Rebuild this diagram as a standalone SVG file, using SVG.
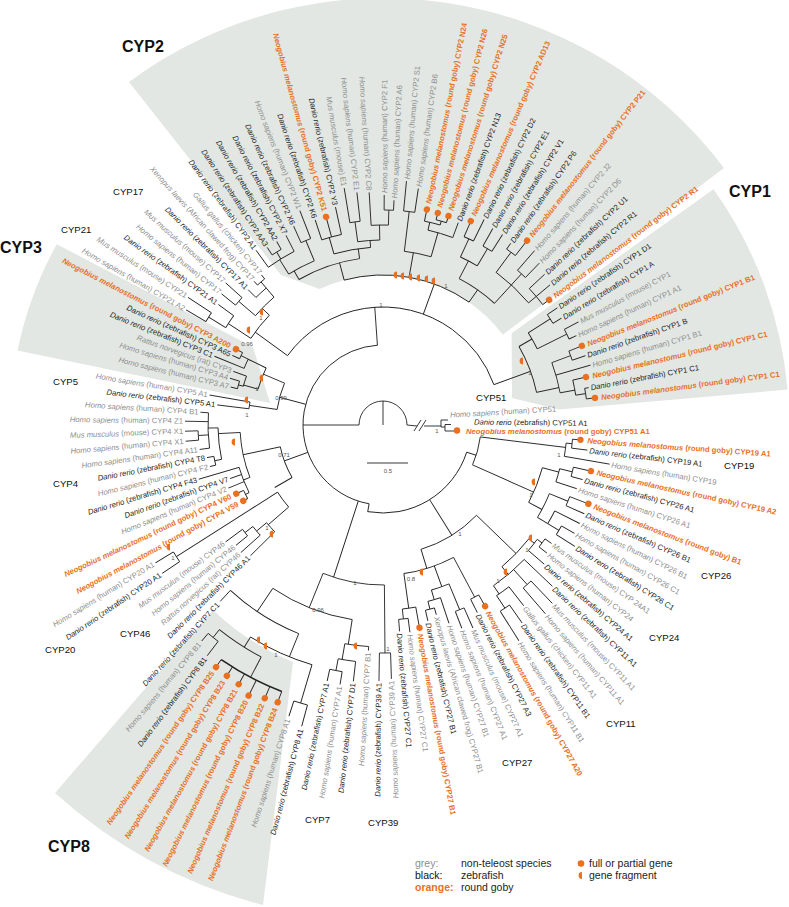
<svg xmlns="http://www.w3.org/2000/svg" width="789" height="907" viewBox="0 0 789 907">
<style>
.t{font-family:"Liberation Sans",Arial,sans-serif;font-size:7.7px;dominant-baseline:central}
.g{fill:#8e8e8e}.k{fill:#1e1e1e}.o{fill:#e8701f;font-weight:bold}
.e{text-anchor:end}.i{font-style:italic}
.d{fill:#e8701f}
.w{fill:#e2e7e3}
.cl{font-family:"Liberation Sans",Arial,sans-serif;font-size:9.6px;fill:#111}
.big{font-family:"Liberation Sans",Arial,sans-serif;font-size:16px;font-weight:bold;fill:#111}
.s{font-family:"Liberation Sans",Arial,sans-serif;font-size:6px;fill:#555;text-anchor:middle}
.lg{font-family:"Liberation Sans",Arial,sans-serif;font-size:10.5px;fill:#222}
</style>
<defs><path id="hf" d="M0,-3.4A3.4,3.4 0 0 0 0,3.4Z" fill="#e8701f"/></defs>
<g id="wedges">
<path class="w" d="M129,82A427,427 0 0 1 724,168L502.8,334.7A150,150 0 0 0 319.6,289.1L281,275Z"/>
<path class="w" d="M511.6,333.2L713.5,189.2A406,406 0 0 1 787.5,389.6L559.3,409.6L512,398Z"/>
<path class="w" d="M56.8,244.2L253,347L270,403L17.5,350.6A373,373 0 0 1 56.8,244.2Z"/>
<path class="w" d="M213,610A252,252 0 0 0 293,662L263,905A495,495 0 0 1 55,793Z"/>
</g>
<g id="connectors" transform="translate(383,425)" fill="none" stroke="#222" stroke-width="0.9">
<circle r="24" pathLength="360" stroke-dasharray="180 360" transform="rotate(180)"/>
<line x2="24" transform="rotate(270)"/>
<line x1="24" x2="80" transform="rotate(180)"/>
<circle r="80" pathLength="360" stroke-dasharray="166 360" transform="rotate(100)"/>
<line x1="80" x2="88" transform="rotate(100)"/>
<circle r="88" pathLength="360" stroke-dasharray="82 360" transform="rotate(18)"/>
<line x1="88" x2="98" transform="rotate(18)"/>
<circle r="98" pathLength="360" stroke-dasharray="17 360" transform="rotate(7)"/>
<line x1="98" x2="184" transform="rotate(7)"/>
<circle r="184" pathLength="360" stroke-dasharray="4.15 360" transform="rotate(5.65)"/>
<line x1="184" x2="190" transform="rotate(5.65)"/>
<circle r="190" pathLength="360" stroke-dasharray="2.7 360" transform="rotate(4.3)"/>
<line x1="190" x2="198" transform="rotate(4.3)"/>
<line x1="190" x2="206" transform="rotate(7)"/>
<line x1="184" x2="230" transform="rotate(9.8)"/>
<line x1="98" x2="165" transform="rotate(24)"/>
<circle r="165" pathLength="360" stroke-dasharray="13 360" transform="rotate(15)"/>
<line x1="165" x2="182" transform="rotate(15)"/>
<circle r="182" pathLength="360" stroke-dasharray="4.3 360" transform="rotate(13.9)"/>
<line x1="182" x2="195" transform="rotate(13.9)"/>
<circle r="195" pathLength="360" stroke-dasharray="2.8 360" transform="rotate(12.5)"/>
<line x1="195" x2="213" transform="rotate(12.5)"/>
<line x1="195" x2="207" transform="rotate(15.3)"/>
<line x1="182" x2="204" transform="rotate(18.2)"/>
<line x1="165" x2="180" transform="rotate(28)"/>
<circle r="180" pathLength="360" stroke-dasharray="8.5 360" transform="rotate(22.4)"/>
<line x1="180" x2="200" transform="rotate(22.4)"/>
<circle r="200" pathLength="360" stroke-dasharray="2.8 360" transform="rotate(21)"/>
<line x1="200" x2="220" transform="rotate(21)"/>
<line x1="200" x2="220" transform="rotate(23.8)"/>
<line x1="180" x2="192" transform="rotate(30.9)"/>
<circle r="192" pathLength="360" stroke-dasharray="4.3 360" transform="rotate(26.6)"/>
<line x1="192" x2="220" transform="rotate(26.6)"/>
<line x1="192" x2="205" transform="rotate(30.9)"/>
<circle r="205" pathLength="360" stroke-dasharray="2.8 360" transform="rotate(29.5)"/>
<line x1="205" x2="220" transform="rotate(29.5)"/>
<line x1="205" x2="227" transform="rotate(32.3)"/>
<line x1="88" x2="130" transform="rotate(58)"/>
<circle r="130" pathLength="360" stroke-dasharray="29 360" transform="rotate(44)"/>
<line x1="130" x2="185" transform="rotate(44)"/>
<circle r="185" pathLength="360" stroke-dasharray="12 360" transform="rotate(38)"/>
<line x1="185" x2="192" transform="rotate(38)"/>
<circle r="192" pathLength="360" stroke-dasharray="4.25 360" transform="rotate(36.55)"/>
<line x1="192" x2="198" transform="rotate(36.55)"/>
<circle r="198" pathLength="360" stroke-dasharray="2.9 360" transform="rotate(35.1)"/>
<line x1="198" x2="206" transform="rotate(35.1)"/>
<line x1="198" x2="208" transform="rotate(38)"/>
<line x1="192" x2="213" transform="rotate(40.8)"/>
<line x1="185" x2="195" transform="rotate(50)"/>
<circle r="195" pathLength="360" stroke-dasharray="11.9 360" transform="rotate(43.6)"/>
<line x1="195" x2="234" transform="rotate(43.6)"/>
<line x1="195" x2="215" transform="rotate(47.9)"/>
<circle r="215" pathLength="360" stroke-dasharray="2.8 360" transform="rotate(46.5)"/>
<line x1="215" x2="246" transform="rotate(46.5)"/>
<line x1="215" x2="249" transform="rotate(49.3)"/>
<line x1="195" x2="205" transform="rotate(55.5)"/>
<circle r="205" pathLength="360" stroke-dasharray="4.25 360" transform="rotate(52.1)"/>
<line x1="205" x2="229" transform="rotate(52.1)"/>
<line x1="205" x2="220" transform="rotate(56.35)"/>
<circle r="220" pathLength="360" stroke-dasharray="2.9 360" transform="rotate(54.9)"/>
<line x1="220" x2="242" transform="rotate(54.9)"/>
<line x1="220" x2="255" transform="rotate(57.8)"/>
<line x1="130" x2="150" transform="rotate(73)"/>
<circle r="150" pathLength="360" stroke-dasharray="20.05 360" transform="rotate(61.95)"/>
<line x1="150" x2="195" transform="rotate(61.95)"/>
<circle r="195" pathLength="360" stroke-dasharray="2.7 360" transform="rotate(60.6)"/>
<line x1="195" x2="208" transform="rotate(60.6)"/>
<line x1="195" x2="210" transform="rotate(63.3)"/>
<line x1="150" x2="172" transform="rotate(70)"/>
<circle r="172" pathLength="360" stroke-dasharray="6.2 360" transform="rotate(67.45)"/>
<line x1="172" x2="200" transform="rotate(67.45)"/>
<circle r="200" pathLength="360" stroke-dasharray="2.7 360" transform="rotate(66.1)"/>
<line x1="200" x2="222" transform="rotate(66.1)"/>
<line x1="200" x2="218" transform="rotate(68.8)"/>
<line x1="172" x2="182" transform="rotate(73.65)"/>
<circle r="182" pathLength="360" stroke-dasharray="4.1 360" transform="rotate(71.6)"/>
<line x1="182" x2="209" transform="rotate(71.6)"/>
<line x1="182" x2="190" transform="rotate(75.7)"/>
<circle r="190" pathLength="360" stroke-dasharray="2.8 360" transform="rotate(74.3)"/>
<line x1="190" x2="197" transform="rotate(74.3)"/>
<line x1="190" x2="201" transform="rotate(77.1)"/>
<line x1="150" x2="185" transform="rotate(82)"/>
<circle r="185" pathLength="360" stroke-dasharray="4.2 360" transform="rotate(79.8)"/>
<line x1="185" x2="206" transform="rotate(79.8)"/>
<line x1="185" x2="195" transform="rotate(84)"/>
<circle r="195" pathLength="360" stroke-dasharray="2.8 360" transform="rotate(82.6)"/>
<line x1="195" x2="209" transform="rotate(82.6)"/>
<line x1="195" x2="207" transform="rotate(85.4)"/>
<line x1="80" x2="160" transform="rotate(108)"/>
<circle r="160" pathLength="360" stroke-dasharray="22.5 360" transform="rotate(89.5)"/>
<line x1="160" x2="228" transform="rotate(89.5)"/>
<circle r="228" pathLength="360" stroke-dasharray="2.8 360" transform="rotate(88.1)"/>
<line x1="228" x2="254" transform="rotate(88.1)"/>
<line x1="228" x2="256" transform="rotate(90.9)"/>
<line x1="160" x2="197" transform="rotate(112)"/>
<circle r="197" pathLength="360" stroke-dasharray="25 360" transform="rotate(99)"/>
<line x1="197" x2="222" transform="rotate(99)"/>
<circle r="222" pathLength="360" stroke-dasharray="6.2 360" transform="rotate(93.7)"/>
<line x1="222" x2="226" transform="rotate(93.7)"/>
<line x1="222" x2="238" transform="rotate(99.9)"/>
<circle r="238" pathLength="360" stroke-dasharray="4.25 360" transform="rotate(96.6)"/>
<line x1="238" x2="258" transform="rotate(96.6)"/>
<line x1="238" x2="250" transform="rotate(100.85)"/>
<circle r="250" pathLength="360" stroke-dasharray="2.9 360" transform="rotate(99.4)"/>
<line x1="250" x2="263" transform="rotate(99.4)"/>
<line x1="250" x2="262" transform="rotate(102.3)"/>
<line x1="197" x2="225" transform="rotate(124)"/>
<circle r="225" pathLength="360" stroke-dasharray="20.7 360" transform="rotate(112)"/>
<line x1="225" x2="240" transform="rotate(132.7)"/>
<line x1="225" x2="250" transform="rotate(112)"/>
<circle r="250" pathLength="360" stroke-dasharray="15.5 360" transform="rotate(106.5)"/>
<line x1="250" x2="290" transform="rotate(106.5)"/>
<circle r="290" pathLength="360" stroke-dasharray="2.8 360" transform="rotate(105.1)"/>
<line x1="290" x2="312" transform="rotate(105.1)"/>
<line x1="290" x2="306" transform="rotate(107.9)"/>
<line x1="250" x2="262" transform="rotate(122)"/>
<circle r="262" pathLength="360" stroke-dasharray="10.95 360" transform="rotate(117.7)"/>
<line x1="262" x2="285" transform="rotate(117.7)"/>
<circle r="285" pathLength="360" stroke-dasharray="13.8 360" transform="rotate(110.8)" stroke-width="1.6"/>
<line x1="285" x2="296.6" transform="rotate(110.8)"/>
<line x1="285" x2="297.7" transform="rotate(113.4)"/>
<line x1="285" x2="302.2" transform="rotate(116.4)"/>
<line x1="285" x2="296.7" transform="rotate(119.1)"/>
<line x1="285" x2="295.4" transform="rotate(121.9)"/>
<line x1="285" x2="294" transform="rotate(124.6)"/>
<line x1="262" x2="272" transform="rotate(128.65)"/>
<circle r="272" pathLength="360" stroke-dasharray="2.7 360" transform="rotate(127.3)"/>
<line x1="272" x2="290" transform="rotate(127.3)"/>
<line x1="272" x2="282" transform="rotate(130)"/>
<line x1="80" x2="105" transform="rotate(160)"/>
<circle r="105" pathLength="360" stroke-dasharray="18 360" transform="rotate(150)"/>
<line x1="105" x2="143" transform="rotate(168)"/>
<circle r="143" pathLength="360" stroke-dasharray="18.5 360" transform="rotate(158.5)"/>
<line x1="143" x2="150" transform="rotate(158.5)"/>
<circle r="150" pathLength="360" stroke-dasharray="10.4 360" transform="rotate(153.2)"/>
<line x1="150" x2="154" transform="rotate(153.2)"/>
<circle r="154" pathLength="360" stroke-dasharray="3.4 360" transform="rotate(151.5)"/>
<line x1="154" x2="159" transform="rotate(151.5)"/>
<line x1="154" x2="162" transform="rotate(154.9)"/>
<line x1="150" x2="167" transform="rotate(157.8)"/>
<line x1="150" x2="162" transform="rotate(160.7)"/>
<line x1="150" x2="192" transform="rotate(163.6)"/>
<line x1="143" x2="165" transform="rotate(177)"/>
<circle r="165" pathLength="360" stroke-dasharray="11 360" transform="rotate(168)"/>
<line x1="165" x2="172" transform="rotate(168)"/>
<circle r="172" pathLength="360" stroke-dasharray="3 360" transform="rotate(166.5)"/>
<line x1="172" x2="178" transform="rotate(166.5)"/>
<line x1="172" x2="179" transform="rotate(169.5)"/>
<line x1="165" x2="175" transform="rotate(179)"/>
<circle r="175" pathLength="360" stroke-dasharray="11.6 360" transform="rotate(172.4)"/>
<line x1="175" x2="185" transform="rotate(172.4)"/>
<line x1="175" x2="185" transform="rotate(176.75)"/>
<circle r="185" pathLength="360" stroke-dasharray="2.9 360" transform="rotate(175.3)"/>
<line x1="185" x2="198" transform="rotate(175.3)"/>
<line x1="185" x2="198" transform="rotate(178.2)"/>
<line x1="175" x2="198" transform="rotate(181.1)"/>
<line x1="175" x2="183" transform="rotate(184)"/>
<line x1="105" x2="125" transform="rotate(150)"/>
<circle r="125" pathLength="360" stroke-dasharray="8.5 360" transform="rotate(139)"/>
<line x1="125" x2="152" transform="rotate(139)"/>
<circle r="152" pathLength="360" stroke-dasharray="4.6 360" transform="rotate(135.4)"/>
<line x1="152" x2="186" transform="rotate(135.4)"/>
<line x1="152" x2="165" transform="rotate(140)"/>
<circle r="165" pathLength="360" stroke-dasharray="3.95 360" transform="rotate(138.1)"/>
<line x1="165" x2="191" transform="rotate(138.1)"/>
<line x1="165" x2="175" transform="rotate(142.05)"/>
<circle r="175" pathLength="360" stroke-dasharray="2.7 360" transform="rotate(140.7)"/>
<line x1="175" x2="190" transform="rotate(140.7)"/>
<line x1="175" x2="196" transform="rotate(143.4)"/>
<line x1="125" x2="245" transform="rotate(147.5)"/>
<circle r="245" pathLength="360" stroke-dasharray="2.7 360" transform="rotate(146.1)"/>
<line x1="245" x2="266" transform="rotate(146.1)"/>
<line x1="245" x2="266" transform="rotate(148.8)"/>
<line x1="80" x2="107" transform="rotate(195)"/>
<circle r="107" pathLength="360" stroke-dasharray="14.65 360" transform="rotate(188.35)"/>
<line x1="107" x2="135" transform="rotate(188.35)"/>
<circle r="135" pathLength="360" stroke-dasharray="2.9 360" transform="rotate(186.9)"/>
<line x1="135" x2="167" transform="rotate(186.9)"/>
<line x1="135" x2="176" transform="rotate(189.8)"/>
<line x1="107" x2="130" transform="rotate(203)"/>
<circle r="130" pathLength="360" stroke-dasharray="10 360" transform="rotate(196)"/>
<line x1="130" x2="145" transform="rotate(196)"/>
<circle r="145" pathLength="360" stroke-dasharray="4.2 360" transform="rotate(195.5)"/>
<line x1="145" x2="150" transform="rotate(195.5)"/>
<circle r="150" pathLength="360" stroke-dasharray="3 360" transform="rotate(194)"/>
<line x1="150" x2="157" transform="rotate(194)"/>
<line x1="150" x2="160" transform="rotate(197)"/>
<line x1="145" x2="159" transform="rotate(199.7)"/>
<line x1="130" x2="150" transform="rotate(206)"/>
<circle r="150" pathLength="360" stroke-dasharray="3.85 360" transform="rotate(202.2)"/>
<line x1="150" x2="182" transform="rotate(202.2)"/>
<line x1="150" x2="158" transform="rotate(206.05)"/>
<circle r="158" pathLength="360" stroke-dasharray="2.5 360" transform="rotate(204.8)"/>
<line x1="158" x2="166" transform="rotate(204.8)"/>
<line x1="158" x2="165.5" transform="rotate(207.3)"/>
<line x1="80" x2="118" transform="rotate(266)"/>
<circle r="118" pathLength="360" stroke-dasharray="124 360" transform="rotate(216)"/>
<line x1="118" x2="158" transform="rotate(216)"/>
<circle r="158" pathLength="360" stroke-dasharray="10.75 360" transform="rotate(213.25)"/>
<line x1="158" x2="185" transform="rotate(213.25)"/>
<circle r="185" pathLength="360" stroke-dasharray="4.45 360" transform="rotate(211.75)"/>
<line x1="185" x2="205" transform="rotate(211.75)"/>
<circle r="205" pathLength="360" stroke-dasharray="2.9 360" transform="rotate(210.3)"/>
<line x1="205" x2="228" transform="rotate(210.3)"/>
<line x1="205" x2="233" transform="rotate(213.2)"/>
<line x1="185" x2="204" transform="rotate(216.2)"/>
<line x1="158" x2="168" transform="rotate(224)"/>
<circle r="168" pathLength="360" stroke-dasharray="8.95 360" transform="rotate(220.6)"/>
<line x1="168" x2="190" transform="rotate(220.6)"/>
<circle r="190" pathLength="360" stroke-dasharray="3 360" transform="rotate(219.1)"/>
<line x1="190" x2="208" transform="rotate(219.1)"/>
<line x1="190" x2="212" transform="rotate(222.1)"/>
<line x1="168" x2="180" transform="rotate(229.55)"/>
<circle r="180" pathLength="360" stroke-dasharray="4.45 360" transform="rotate(225.1)"/>
<line x1="180" x2="191" transform="rotate(225.1)"/>
<line x1="180" x2="188" transform="rotate(229.55)"/>
<circle r="188" pathLength="360" stroke-dasharray="2.9 360" transform="rotate(228.1)"/>
<line x1="188" x2="193" transform="rotate(228.1)"/>
<line x1="188" x2="193" transform="rotate(231)"/>
<line x1="118" x2="150" transform="rotate(290)"/>
<circle r="150" pathLength="360" stroke-dasharray="50 360" transform="rotate(255)"/>
<line x1="150" x2="168" transform="rotate(255)"/>
<circle r="168" pathLength="360" stroke-dasharray="22 360" transform="rotate(240)"/>
<line x1="168" x2="178" transform="rotate(240)"/>
<circle r="178" pathLength="360" stroke-dasharray="9.3 360" transform="rotate(238)"/>
<line x1="178" x2="195" transform="rotate(238)"/>
<circle r="195" pathLength="360" stroke-dasharray="8.9 360" transform="rotate(234)"/>
<line x1="195" x2="216" transform="rotate(234)"/>
<line x1="195" x2="203" transform="rotate(238.4)"/>
<circle r="203" pathLength="360" stroke-dasharray="3 360" transform="rotate(236.9)"/>
<line x1="203" x2="212" transform="rotate(236.9)"/>
<line x1="203" x2="212" transform="rotate(239.9)"/>
<line x1="195" x2="213" transform="rotate(242.9)"/>
<line x1="178" x2="200" transform="rotate(247.3)"/>
<circle r="200" pathLength="360" stroke-dasharray="3 360" transform="rotate(245.8)"/>
<line x1="200" x2="218" transform="rotate(245.8)"/>
<line x1="200" x2="230" transform="rotate(248.8)"/>
<line x1="168" x2="178" transform="rotate(262)"/>
<circle r="178" pathLength="360" stroke-dasharray="12 360" transform="rotate(254)"/>
<line x1="178" x2="195" transform="rotate(254)"/>
<circle r="195" pathLength="360" stroke-dasharray="6 360" transform="rotate(251.7)"/>
<line x1="195" x2="216" transform="rotate(251.7)"/>
<line x1="195" x2="215.7" transform="rotate(254.7)"/>
<line x1="195" x2="223" transform="rotate(257.7)"/>
<line x1="178" x2="185" transform="rotate(266)"/>
<circle r="185" pathLength="360" stroke-dasharray="6.85 360" transform="rotate(262.15)"/>
<line x1="185" x2="205" transform="rotate(262.15)"/>
<circle r="205" pathLength="360" stroke-dasharray="2.9 360" transform="rotate(260.7)"/>
<line x1="205" x2="240" transform="rotate(260.7)"/>
<line x1="205" x2="234" transform="rotate(263.6)"/>
<line x1="185" x2="200" transform="rotate(269)"/>
<circle r="200" pathLength="360" stroke-dasharray="4.95 360" transform="rotate(266.6)"/>
<line x1="200" x2="233" transform="rotate(266.6)"/>
<line x1="200" x2="215" transform="rotate(271.55)"/>
<circle r="215" pathLength="360" stroke-dasharray="2.5 360" transform="rotate(270.3)"/>
<line x1="215" x2="230" transform="rotate(270.3)"/>
<line x1="215" x2="225" transform="rotate(272.8)"/>
<line x1="150" x2="175" transform="rotate(280)"/>
<circle r="175" pathLength="360" stroke-dasharray="8.95 360" transform="rotate(277)"/>
<line x1="175" x2="215" transform="rotate(277)"/>
<circle r="215" pathLength="360" stroke-dasharray="3 360" transform="rotate(275.5)"/>
<line x1="215" x2="245" transform="rotate(275.5)"/>
<line x1="215" x2="239" transform="rotate(278.5)"/>
<line x1="175" x2="200" transform="rotate(285.95)"/>
<circle r="200" pathLength="360" stroke-dasharray="7.4 360" transform="rotate(283)"/>
<line x1="200" x2="208" transform="rotate(283)"/>
<circle r="208" pathLength="360" stroke-dasharray="4.45 360" transform="rotate(281.5)"/>
<line x1="208" x2="220" transform="rotate(281.5)"/>
<line x1="208" x2="212" transform="rotate(285.95)"/>
<circle r="212" pathLength="360" stroke-dasharray="2.9 360" transform="rotate(284.5)"/>
<line x1="212" x2="219" transform="rotate(284.5)"/>
<line x1="212" x2="219" transform="rotate(287.4)"/>
<line x1="200" x2="216" transform="rotate(290.4)"/>
<line x1="150" x2="165" transform="rotate(305)"/>
<circle r="165" pathLength="360" stroke-dasharray="15 360" transform="rotate(297.5)"/>
<line x1="165" x2="185" transform="rotate(297.5)"/>
<circle r="185" pathLength="360" stroke-dasharray="5.9 360" transform="rotate(294.75)"/>
<line x1="185" x2="205" transform="rotate(294.75)"/>
<circle r="205" pathLength="360" stroke-dasharray="2.9 360" transform="rotate(293.3)"/>
<line x1="205" x2="222" transform="rotate(293.3)"/>
<line x1="205" x2="229" transform="rotate(296.2)"/>
<line x1="185" x2="205" transform="rotate(300.65)"/>
<circle r="205" pathLength="360" stroke-dasharray="2.9 360" transform="rotate(299.2)"/>
<line x1="205" x2="225" transform="rotate(299.2)"/>
<line x1="205" x2="225" transform="rotate(302.1)"/>
<line x1="165" x2="190" transform="rotate(312.5)"/>
<circle r="190" pathLength="360" stroke-dasharray="13.45 360" transform="rotate(306.55)"/>
<line x1="190" x2="215" transform="rotate(306.55)"/>
<circle r="215" pathLength="360" stroke-dasharray="2.9 360" transform="rotate(305.1)"/>
<line x1="215" x2="222" transform="rotate(305.1)"/>
<line x1="215" x2="234" transform="rotate(308)"/>
<line x1="190" x2="205" transform="rotate(312.5)"/>
<circle r="205" pathLength="360" stroke-dasharray="3 360" transform="rotate(311)"/>
<line x1="205" x2="231" transform="rotate(311)"/>
<line x1="205" x2="225" transform="rotate(314)"/>
<line x1="190" x2="200" transform="rotate(320)"/>
<circle r="200" pathLength="360" stroke-dasharray="6 360" transform="rotate(317)"/>
<line x1="200" x2="221" transform="rotate(317)"/>
<line x1="200" x2="218" transform="rotate(320)"/>
<line x1="200" x2="208" transform="rotate(323)"/>
<line x1="118" x2="157" transform="rotate(340)"/>
<circle r="157" pathLength="360" stroke-dasharray="18 360" transform="rotate(330)"/>
<line x1="157" x2="172" transform="rotate(330)"/>
<circle r="172" pathLength="360" stroke-dasharray="6.1 360" transform="rotate(327.6)"/>
<line x1="172" x2="198" transform="rotate(327.6)"/>
<circle r="198" pathLength="360" stroke-dasharray="3 360" transform="rotate(326.1)"/>
<line x1="198" x2="210" transform="rotate(326.1)"/>
<line x1="198" x2="208" transform="rotate(329.1)"/>
<line x1="172" x2="205" transform="rotate(333.7)"/>
<circle r="205" pathLength="360" stroke-dasharray="3 360" transform="rotate(332.2)"/>
<line x1="205" x2="221" transform="rotate(332.2)"/>
<line x1="205" x2="213" transform="rotate(335.2)"/>
<line x1="157" x2="180" transform="rotate(348)"/>
<circle r="180" pathLength="360" stroke-dasharray="10 360" transform="rotate(339.7)"/>
<line x1="180" x2="200" transform="rotate(339.7)"/>
<circle r="200" pathLength="360" stroke-dasharray="2.8 360" transform="rotate(338.3)"/>
<line x1="200" x2="214" transform="rotate(338.3)"/>
<line x1="200" x2="214" transform="rotate(341.1)"/>
<line x1="180" x2="216" transform="rotate(343.9)"/>
<line x1="180" x2="195" transform="rotate(349.7)"/>
<circle r="195" pathLength="360" stroke-dasharray="4.5 360" transform="rotate(346.7)"/>
<line x1="195" x2="208.6" transform="rotate(346.7)"/>
<line x1="195" x2="205" transform="rotate(351.2)"/>
<circle r="205" pathLength="360" stroke-dasharray="3 360" transform="rotate(349.7)"/>
<line x1="205" x2="209" transform="rotate(349.7)"/>
<line x1="205" x2="213.7" transform="rotate(352.7)"/>
</g>
<g id="cyp51-branch" fill="none" stroke="#222" stroke-width="0.9">
<path d="M407,425L417,426M424,426L441,426M441,420V427M441,420H448M441,427H445M445,424.5V431M445,424.5H451M445,431H454"/>
<path d="M414,431L421,420M419,431L426,420"/>
</g>
<g id="leaves" transform="translate(383,425)">
<g id="l4" transform="rotate(4.3)"><circle class="d" cx="198" r="3.2"/><text class="t o" x="205"><tspan class="i">Neogobius melanostomus</tspan> (round goby) CYP19 A1</text></g>
<g id="l5" transform="rotate(7)"><text class="t k" x="208"><tspan class="i">Danio rerio</tspan> (zebrafish) CYP19 A1</text></g>
<g id="l6" transform="rotate(9.8)"><text class="t g" x="232"><tspan class="i">Homo sapiens</tspan> (human) CYP19</text></g>
<g id="l7" transform="rotate(12.5)"><circle class="d" cx="213" r="3.2"/><text class="t o" x="219"><tspan class="i">Neogobius melanostomus</tspan> (round goby) CYP19 A2</text></g>
<g id="l8" transform="rotate(15.3)"><text class="t k" x="209"><tspan class="i">Danio rerio</tspan> (zebrafish) CYP26 A1</text></g>
<g id="l9" transform="rotate(18.2)"><text class="t g" x="206"><tspan class="i">Homo sapiens</tspan> (human) CYP26 A1</text></g>
<g id="l10" transform="rotate(21)"><circle class="d" cx="220" r="3.2"/><text class="t o" x="226"><tspan class="i">Neogobius melanostomus</tspan> (round goby) B1</text></g>
<g id="l11" transform="rotate(23.8)"><text class="t k" x="222"><tspan class="i">Danio rerio</tspan> (zebrafish) CYP26 B1</text></g>
<g id="l12" transform="rotate(26.6)"><text class="t g" x="222"><tspan class="i">Homo sapiens</tspan> (human) CYP26 B1</text></g>
<g id="l13" transform="rotate(29.5)"><text class="t g" x="222"><tspan class="i">Homo sapiens</tspan> (human) CYP26 C1</text></g>
<g id="l14" transform="rotate(32.3)"><text class="t k" x="229"><tspan class="i">Danio rerio</tspan> (zebrafish) CYP26 C1</text></g>
<g id="l15" transform="rotate(35.1)"><text class="t g" x="208"><tspan class="i">Mus musculus</tspan> (mouse) CYP 24A1</text></g>
<g id="l16" transform="rotate(38)"><text class="t g" x="210"><tspan class="i">Homo sapiens</tspan> (human) CYP24</text></g>
<g id="l17" transform="rotate(40.8)"><text class="t k" x="215"><tspan class="i">Danio rerio</tspan> (zebrafish) CYP24 A1</text></g>
<g id="l18" transform="rotate(43.6)"><text class="t k" x="236"><tspan class="i">Danio rerio</tspan> (zebrafish) CYP11 A1</text></g>
<g id="l19" transform="rotate(46.5)"><text class="t g" x="248"><tspan class="i">Mus musculus</tspan> (mouse) CYP11 A1</text></g>
<g id="l20" transform="rotate(49.3)"><text class="t g" x="251"><tspan class="i">Homo sapiens</tspan> (human) CYP11 A1</text></g>
<g id="l21" transform="rotate(52.1)"><text class="t g" x="231"><tspan class="i">Gallus gallus</tspan> (chicken) CYP11 A1</text></g>
<g id="l22" transform="rotate(54.9)"><text class="t k" x="244"><tspan class="i">Danio rerio</tspan> (zebrafish) CYP11 B1</text></g>
<g id="l23" transform="rotate(57.8)"><text class="t g" x="257"><tspan class="i">Homo sapiens</tspan> (human) CYP11 B1</text></g>
<g id="l24" transform="rotate(60.6)"><circle class="d" cx="208" r="3.2"/><text class="t o" x="214"><tspan class="i">Neogobius melanostomus</tspan> (round goby) CYP27 A20</text></g>
<g id="l25" transform="rotate(63.3)"><text class="t k" x="212"><tspan class="i">Danio rerio</tspan> (zebrafish) CYP27 A3</text></g>
<g id="l26" transform="rotate(66.1)"><text class="t g" x="224"><tspan class="i">Mus musculus</tspan> (mouse) CYP27 A1</text></g>
<g id="l27" transform="rotate(68.8)"><text class="t g" x="220"><tspan class="i">Homo sapiens</tspan> (human) CYP27 A1</text></g>
<g id="l28" transform="rotate(71.6)"><text class="t g" x="211"><tspan class="i">Homo sapiens</tspan> (human) CYP27 B1</text></g>
<g id="l29" transform="rotate(74.3)"><text class="t g" x="199"><tspan class="i">Xenopus laevis</tspan> (African clawed frog) CYP27 B1</text></g>
<g id="l30" transform="rotate(77.1)"><text class="t k" x="203"><tspan class="i">Danio rerio</tspan> (zebrafish) CYP27 B1</text></g>
<g id="l31" transform="rotate(79.8)"><circle class="d" cx="206" r="3.2"/><text class="t o" x="212"><tspan class="i">Neogobius melanostomus</tspan> (round goby) CYP27 B1</text></g>
<g id="l32" transform="rotate(82.6)"><text class="t g" x="211"><tspan class="i">Homo sapiens</tspan> (human) CYP27 C1</text></g>
<g id="l33" transform="rotate(85.4)"><text class="t k" x="209"><tspan class="i">Danio rerio</tspan> (zebrafish) CYP27 C1</text></g>
<g id="l34" transform="rotate(-91.9)"><text class="t g e" x="-256"><tspan class="i">Homo sapiens</tspan> (human) CYP39 A1</text></g>
<g id="l35" transform="rotate(-89.1)"><text class="t k e" x="-258"><tspan class="i">Danio rerio</tspan> (zebrafish) CYP39 A1</text></g>
<g id="l36" transform="rotate(-86.3)"><text class="t g e" x="-228"><tspan class="i">Homo sapiens</tspan> (human) CYP7 B1</text></g>
<g id="l37" transform="rotate(-83.4)"><text class="t k e" x="-260"><tspan class="i">Danio rerio</tspan> (zebrafish) CYP7 D1</text></g>
<g id="l38" transform="rotate(-80.6)"><text class="t g e" x="-265"><tspan class="i">Homo sapiens</tspan> (human) CYP7 A1</text></g>
<g id="l39" transform="rotate(-77.7)"><text class="t k e" x="-264"><tspan class="i">Danio rerio</tspan> (zebrafish) CYP7 A1</text></g>
<g id="l40" transform="rotate(-74.9)"><text class="t k e" x="-315"><tspan class="i">Danio rerio</tspan> (zebrafish) CYP8 A1</text></g>
<g id="l41" transform="rotate(-72.1)"><text class="t g e" x="-309"><tspan class="i">Homo sapiens</tspan> (human) CYP8 A1</text></g>
<g id="l42" transform="rotate(-69.2)"><circle class="d" cx="-296.6" r="3.2"/><text class="t o e" x="-303"><tspan class="i">Neogobius melanostomus</tspan> (round goby) CYP8 B24</text></g>
<g id="l43" transform="rotate(-66.6)"><circle class="d" cx="-297.7" r="3.2"/><text class="t o e" x="-304"><tspan class="i">Neogobius melanostomus</tspan> (round goby) CYP8 B22</text></g>
<g id="l44" transform="rotate(-63.6)"><circle class="d" cx="-302.2" r="3.2"/><text class="t o e" x="-308"><tspan class="i">Neogobius melanostomus</tspan> (round goby) CYP8 B20</text></g>
<g id="l45" transform="rotate(-60.9)"><circle class="d" cx="-296.7" r="3.2"/><text class="t o e" x="-303"><tspan class="i">Neogobius melanostomus</tspan> (round goby) CYP8 B21</text></g>
<g id="l46" transform="rotate(-58.1)"><circle class="d" cx="-295.4" r="3.2"/><text class="t o e" x="-302"><tspan class="i">Neogobius melanostomus</tspan> (round goby) CYP8 B23</text></g>
<g id="l47" transform="rotate(-55.4)"><circle class="d" cx="-294" r="3.2"/><text class="t o e" x="-300"><tspan class="i">Neogobius melanostomus</tspan> (round goby) CYP8 B25</text></g>
<g id="l48" transform="rotate(-52.7)"><text class="t k e" x="-293"><tspan class="i">Danio rerio</tspan> (zebrafish) CYP8 B1</text></g>
<g id="l49" transform="rotate(-50)"><text class="t g e" x="-285"><tspan class="i">Homo sapiens</tspan> (human) CYP8 B1</text></g>
<g id="l50" transform="rotate(-47.3)"><text class="t k e" x="-243"><tspan class="i">Danio rerio</tspan> (zebrafish) CYP7 C1</text></g>
<g id="l51" transform="rotate(-44.6)"><text class="t k e" x="-188"><tspan class="i">Danio rerio</tspan> (zebrafish) CYP46 A1</text></g>
<g id="l52" transform="rotate(-41.9)"><text class="t g e" x="-193"><tspan class="i">Rattus norvegicus</tspan> (rat) CYP46</text></g>
<g id="l53" transform="rotate(-39.3)"><text class="t g e" x="-192"><tspan class="i">Homo sapiens</tspan> (human) CYP46</text></g>
<g id="l54" transform="rotate(-36.6)"><text class="t g e" x="-198"><tspan class="i">Mus musculus</tspan> (mouse) CYP46</text></g>
<g id="l55" transform="rotate(-33.9)"><text class="t k e" x="-268"><tspan class="i">Danio rerio</tspan> (zebrafish) CYP20 A1</text></g>
<g id="l56" transform="rotate(-31.2)"><text class="t g e" x="-268"><tspan class="i">Homo sapiens</tspan> (human) CYP20 A1</text></g>
<g id="l57" transform="rotate(-28.5)"><circle class="d" cx="-159" r="3.2"/><text class="t o e" x="-165"><tspan class="i">Neogobius melanostomus</tspan> (round goby) CYP4 V59</text></g>
<g id="l58" transform="rotate(-25.1)"><circle class="d" cx="-162" r="3.2"/><text class="t o e" x="-168"><tspan class="i">Neogobius melanostomus</tspan> (round goby) CYP4 V60</text></g>
<g id="l59" transform="rotate(-22.2)"><text class="t g e" x="-169"><tspan class="i">Homo sapiens</tspan> (human) CYP4 V2</text></g>
<g id="l60" transform="rotate(-19.3)"><text class="t k e" x="-164"><tspan class="i">Danio rerio</tspan> (zebrafish) CYP4 V7</text></g>
<g id="l61" transform="rotate(-16.4)"><text class="t k e" x="-194"><tspan class="i">Danio rerio</tspan> (zebrafish) CYP4 F43</text></g>
<g id="l62" transform="rotate(-13.5)"><text class="t g e" x="-180"><tspan class="i">Homo sapiens</tspan> (human) CYP4 F2</text></g>
<g id="l63" transform="rotate(-10.5)"><text class="t k e" x="-181"><tspan class="i">Danio rerio</tspan> (zebrafish) CYP4 T8</text></g>
<g id="l64" transform="rotate(-7.6)"><text class="t g e" x="-187"><tspan class="i">Homo sapiens</tspan> (human) CYP4 A11</text></g>
<g id="l65" transform="rotate(-4.7)"><text class="t g e" x="-200"><tspan class="i">Homo sapiens</tspan> (human) CYP4 X1</text></g>
<g id="l66" transform="rotate(-1.8)"><text class="t g e" x="-200"><tspan class="i">Mus musculus</tspan> (mouse) CYP4 X1</text></g>
<g id="l67" transform="rotate(1.1)"><text class="t g e" x="-200"><tspan class="i">Homo sapiens</tspan> (human) CYP4 Z1</text></g>
<g id="l68" transform="rotate(4)"><text class="t g e" x="-185"><tspan class="i">Homo sapiens</tspan> (human) CYP4 B1</text></g>
<g id="l69" transform="rotate(6.9)"><text class="t k e" x="-169"><tspan class="i">Danio rerio</tspan> (zebrafish) CYP5 A1</text></g>
<g id="l70" transform="rotate(9.8)"><text class="t g e" x="-178"><tspan class="i">Homo sapiens</tspan> (human) CYP5 A1</text></g>
<g id="l71" transform="rotate(14)"><text class="t g e" x="-159"><tspan class="i">Homo sapiens</tspan> (human) CYP3 A7</text></g>
<g id="l72" transform="rotate(17)"><text class="t g e" x="-162"><tspan class="i">Homo sapiens</tspan> (human) CYP3 A4</text></g>
<g id="l73" transform="rotate(19.7)"><text class="t g e" x="-161"><tspan class="i">Rattus norvegicus</tspan> (rat) CYP3</text></g>
<g id="l74" transform="rotate(22.2)"><text class="t k e" x="-184"><tspan class="i">Danio rerio</tspan> (zebrafish) CYP3 C1</text></g>
<g id="l75" transform="rotate(24.8)"><text class="t k e" x="-168"><tspan class="i">Danio rerio</tspan> (zebrafish) CYP3 A65</text></g>
<g id="l76" transform="rotate(27.3)"><circle class="d" cx="-165.5" r="3.2"/><text class="t o e" x="-172"><tspan class="i">Neogobius melanostomus</tspan> (round goby) CYP3 A200</text></g>
<g id="l77" transform="rotate(30.3)"><text class="t g e" x="-230"><tspan class="i">Homo sapiens</tspan> (human) CYP21 A2</text></g>
<g id="l78" transform="rotate(33.2)"><text class="t g e" x="-235"><tspan class="i">Mus musculus</tspan> (mouse) CYP21</text></g>
<g id="l79" transform="rotate(36.2)"><text class="t k e" x="-206"><tspan class="i">Danio rerio</tspan> (zebrafish) CYP21 A1</text></g>
<g id="l80" transform="rotate(39.1)"><text class="t g e" x="-210"><tspan class="i">Homo sapiens</tspan> (human) CYP17</text></g>
<g id="l81" transform="rotate(42.1)"><text class="t g e" x="-214"><tspan class="i">Mus musculus</tspan> (mouse) CYP17</text></g>
<g id="l82" transform="rotate(45.1)"><text class="t k e" x="-193"><tspan class="i">Danio rerio</tspan> (zebrafish) CYP17 A1</text></g>
<g id="l83" transform="rotate(48.1)"><text class="t g e" x="-195"><tspan class="i">Xenopus laevis</tspan> (African clawed frog) CYP17</text></g>
<g id="l84" transform="rotate(51)"><text class="t g e" x="-195"><tspan class="i">Gallus gallus</tspan> (chicken) CYP17</text></g>
<g id="l85" transform="rotate(54)"><text class="t k e" x="-218"><tspan class="i">Danio rerio</tspan> (zebrafish) CYP2 A1</text></g>
<g id="l86" transform="rotate(56.9)"><text class="t k e" x="-214"><tspan class="i">Danio rerio</tspan> (zebrafish) CYP2 AA3</text></g>
<g id="l87" transform="rotate(59.9)"><text class="t k e" x="-214"><tspan class="i">Danio rerio</tspan> (zebrafish) CYP2 AA2</text></g>
<g id="l88" transform="rotate(62.9)"><text class="t k e" x="-215"><tspan class="i">Danio rerio</tspan> (zebrafish) CYP2 X7</text></g>
<g id="l89" transform="rotate(65.8)"><text class="t k e" x="-220"><tspan class="i">Danio rerio</tspan> (zebrafish) CYP2 X6</text></g>
<g id="l90" transform="rotate(68.8)"><text class="t g e" x="-232"><tspan class="i">Homo sapiens</tspan> (human) CYP2 W1</text></g>
<g id="l91" transform="rotate(71.7)"><text class="t k e" x="-218"><tspan class="i">Danio rerio</tspan> (zebrafish) CYP2 K6</text></g>
<g id="l92" transform="rotate(74.7)"><circle class="d" cx="-215.7" r="3.2"/><text class="t o e" x="-222"><tspan class="i">Neogobius melanostomus</tspan> (round goby) CYP2 K51</text></g>
<g id="l93" transform="rotate(77.7)"><text class="t k e" x="-225"><tspan class="i">Danio rerio</tspan> (zebrafish) CYP2 Y3</text></g>
<g id="l94" transform="rotate(80.7)"><text class="t g e" x="-242"><tspan class="i">Mus musculus</tspan> (mouse) E1</text></g>
<g id="l95" transform="rotate(83.6)"><text class="t g e" x="-236"><tspan class="i">Homo sapiens</tspan> (human) CYP2 E1</text></g>
<g id="l96" transform="rotate(86.6)"><text class="t g e" x="-235"><tspan class="i">Homo sapiens</tspan> (human) CYP2 C8</text></g>
<g id="l97" transform="rotate(-89.7)"><text class="t g" x="232"><tspan class="i">Homo sapiens</tspan> (human) CYP2 F1</text></g>
<g id="l98" transform="rotate(-87.2)"><text class="t g" x="227"><tspan class="i">Homo sapiens</tspan> (human) CYP2 A6</text></g>
<g id="l99" transform="rotate(-84.5)"><text class="t g" x="247"><tspan class="i">Homo sapiens</tspan> (human) CYP2 S1</text></g>
<g id="l100" transform="rotate(-81.5)"><text class="t g" x="241"><tspan class="i">Homo sapiens</tspan> (human) CYP2 B6</text></g>
<g id="l101" transform="rotate(-78.5)"><circle class="d" cx="220" r="3.2"/><text class="t o" x="226"><tspan class="i">Neogobius melanostomus</tspan> (round goby) CYP2 N24</text></g>
<g id="l102" transform="rotate(-75.5)"><circle class="d" cx="219" r="3.2"/><text class="t o" x="225"><tspan class="i">Neogobius melanostomus</tspan> (round goby) CYP2 N26</text></g>
<g id="l103" transform="rotate(-72.6)"><circle class="d" cx="219" r="3.2"/><text class="t o" x="225"><tspan class="i">Neogobius melanostomus</tspan> (round goby) CYP2 N25</text></g>
<g id="l104" transform="rotate(-69.6)"><text class="t k" x="218"><tspan class="i">Danio rerio</tspan> (zebrafish) CYP2 N13</text></g>
<g id="l105" transform="rotate(-66.7)"><circle class="d" cx="222" r="3.2"/><text class="t o" x="228"><tspan class="i">Neogobius melanostomus</tspan> (round goby) CYP2 AD13</text></g>
<g id="l106" transform="rotate(-63.8)"><text class="t k" x="231"><tspan class="i">Danio rerio</tspan> (zebrafish) CYP2 D2</text></g>
<g id="l107" transform="rotate(-60.8)"><text class="t k" x="227"><tspan class="i">Danio rerio</tspan> (zebrafish) CYP2 E1</text></g>
<g id="l108" transform="rotate(-57.9)"><text class="t k" x="227"><tspan class="i">Danio rerio</tspan> (zebrafish) CYP2 V1</text></g>
<g id="l109" transform="rotate(-54.9)"><text class="t k" x="224"><tspan class="i">Danio rerio</tspan> (zebrafish) CYP2 P6</text></g>
<g id="l110" transform="rotate(-52)"><circle class="d" cx="234" r="3.2"/><text class="t o" x="240"><tspan class="i">Neogobius melanostomus</tspan> (round goby) CYP2 P21</text></g>
<g id="l111" transform="rotate(-49)"><text class="t g" x="233"><tspan class="i">Homo sapiens</tspan> (human) CYP2 J2</text></g>
<g id="l112" transform="rotate(-46)"><text class="t g" x="227"><tspan class="i">Homo sapiens</tspan> (human) CYP2 D6</text></g>
<g id="l113" transform="rotate(-43)"><text class="t k" x="223"><tspan class="i">Danio rerio</tspan> (zebrafish) CYP2 U1</text></g>
<g id="l114" transform="rotate(-40)"><text class="t k" x="220"><tspan class="i">Danio rerio</tspan> (zebrafish) CYP2 R1</text></g>
<g id="l115" transform="rotate(-37)"><circle class="d" cx="208" r="3.2"/><text class="t o" x="214"><tspan class="i">Neogobius melanostomus</tspan> (round goby) CYP2 R1</text></g>
<g id="l116" transform="rotate(-33.9)"><text class="t k" x="212"><tspan class="i">Danio rerio</tspan> (zebrafish) CYP1 D1</text></g>
<g id="l117" transform="rotate(-30.9)"><text class="t k" x="210"><tspan class="i">Danio rerio</tspan> (zebrafish) CYP1 A</text></g>
<g id="l118" transform="rotate(-27.8)"><text class="t g" x="223"><tspan class="i">Mus musculus</tspan> (mouse)  CYP1</text></g>
<g id="l119" transform="rotate(-24.8)"><text class="t g" x="215"><tspan class="i">Homo sapiens</tspan> (human) CYP1 A1</text></g>
<g id="l120" transform="rotate(-21.7)"><circle class="d" cx="214" r="3.2"/><text class="t o" x="220"><tspan class="i">Neogobius melanostomus</tspan> (round goby) CYP1 B1</text></g>
<g id="l121" transform="rotate(-18.9)"><text class="t k" x="216"><tspan class="i">Danio rerio</tspan> (zebrafish) CYP1 B</text></g>
<g id="l122" transform="rotate(-16.1)"><text class="t g" x="218"><tspan class="i">Homo sapiens</tspan> (human) CYP1 B1</text></g>
<g id="l123" transform="rotate(-13.3)"><circle class="d" cx="208.6" r="3.2"/><text class="t o" x="215"><tspan class="i">Neogobius melanostomus</tspan> (round goby) CYP1 C1</text></g>
<g id="l124" transform="rotate(-10.3)"><text class="t k" x="211"><tspan class="i">Danio rerio</tspan> (zebrafish) CYP1 C1</text></g>
<g id="l125" transform="rotate(-7.3)"><circle class="d" cx="213.7" r="3.2"/><text class="t o" x="220"><tspan class="i">Neogobius melanostomus</tspan> (round goby) CYP1 C1</text></g>
</g>
<g id="cyp51-leaves">
<g id="l1"><text class="t g" x="450" y="414.5" transform="rotate(-3 450 414.5)"><tspan class="i">Homo sapiens</tspan> (human) CYP51</text></g>
<g id="l2"><text class="t k" x="474" y="421.5" transform="rotate(1 474 421.5)"><tspan class="i">Danio rerio</tspan> (zebrafish) CYP51 A1</text></g>
<g id="l3"><circle class="d" cx="457" cy="430.5" r="3.2"/><text class="t o" x="466" y="431"><tspan class="i">Neogobius melanostomus</tspan> (round goby) CYP51 A1</text></g>
</g>
<g id="fragments">
<use href="#hf" x="397" y="275"/><use href="#hf" x="404" y="276"/><use href="#hf" x="412" y="277"/><use href="#hf" x="420" y="278"/><use href="#hf" x="428" y="279"/><use href="#hf" x="435" y="281"/>
<use href="#hf" x="263" y="312"/><use href="#hf" x="250" y="330"/><use href="#hf" x="263" y="378"/><use href="#hf" x="248" y="400"/><use href="#hf" x="235" y="442"/><use href="#hf" x="273" y="534"/><use href="#hf" x="170" y="547"/>
<use href="#hf" x="523" y="361"/><use href="#hf" x="535" y="482"/><use href="#hf" x="532" y="538"/><use href="#hf" x="423" y="572"/><use href="#hf" x="507" y="572"/><use href="#hf" x="260" y="640"/><use href="#hf" x="267" y="646"/><use href="#hf" x="357" y="646"/>
</g>
<g id="support">
<text class="s" x="446" y="288">1</text><text class="s" x="381" y="307">1</text><text class="s" x="261" y="320">1</text><text class="s" x="247" y="346">0.96</text>
<text class="s" x="257" y="391">1</text><text class="s" x="281" y="400">0.99</text><text class="s" x="247" y="417">1</text><text class="s" x="284" y="457">0.71</text>
<text class="s" x="267" y="530">1</text><text class="s" x="173" y="560">1</text><text class="s" x="318" y="612">0.96</text><text class="s" x="355" y="585">1</text>
<text class="s" x="276" y="657">1</text><text class="s" x="388" y="651">1</text><text class="s" x="411" y="581">0.8</text><text class="s" x="460" y="536">1</text>
<text class="s" x="527" y="552">1</text><text class="s" x="498" y="583">1</text><text class="s" x="531" y="497">1</text><text class="s" x="559" y="457">1</text>
<text class="s" x="530" y="375">1</text><text class="s" x="437" y="433">1</text>
</g>
<g id="clade-labels">
<text class="big" x="122" y="52">CYP2</text><text class="big" x="729" y="197">CYP1</text><text class="big" x="0" y="253">CYP3</text><text class="big" x="48" y="852">CYP8</text>
<text class="cl" x="113" y="195">CYP17</text><text class="cl" x="61" y="233">CYP21</text><text class="cl" x="53" y="385">CYP5</text><text class="cl" x="53" y="487">CYP4</text>
<text class="cl" x="120" y="637">CYP46</text><text class="cl" x="45" y="653">CYP20</text><text class="cl" x="305" y="823">CYP7</text><text class="cl" x="368" y="826">CYP39</text>
<text class="cl" x="502" y="766">CYP27</text><text class="cl" x="606" y="727">CYP11</text><text class="cl" x="649" y="641">CYP24</text><text class="cl" x="701" y="579">CYP26</text>
<text class="cl" x="724" y="469">CYP19</text><text class="cl" x="476" y="401">CYP51</text>
</g>
<g id="scale">
<line x1="367" y1="463" x2="408" y2="463" stroke="#222" stroke-width="0.9"/>
<text class="s" x="388" y="473">0.5</text>
</g>
<g id="legend">
<text class="lg" x="415" y="867" style="fill:#8e8e8e">grey:</text><text class="lg" x="461" y="867">non-teleost species</text>
<text class="lg" x="415" y="879" style="fill:#111">black:</text><text class="lg" x="461" y="879">zebrafish</text>
<text class="lg" x="415" y="891" style="fill:#e8701f;font-weight:bold">orange:</text><text class="lg" x="461" y="891">round goby</text>
<circle class="d" cx="581" cy="863.5" r="3.3"/><text class="lg" x="589" y="867">full or partial gene</text>
<use href="#hf" x="582" y="875.5"/><text class="lg" x="589" y="879">gene fragment</text>
</g>
</svg>
